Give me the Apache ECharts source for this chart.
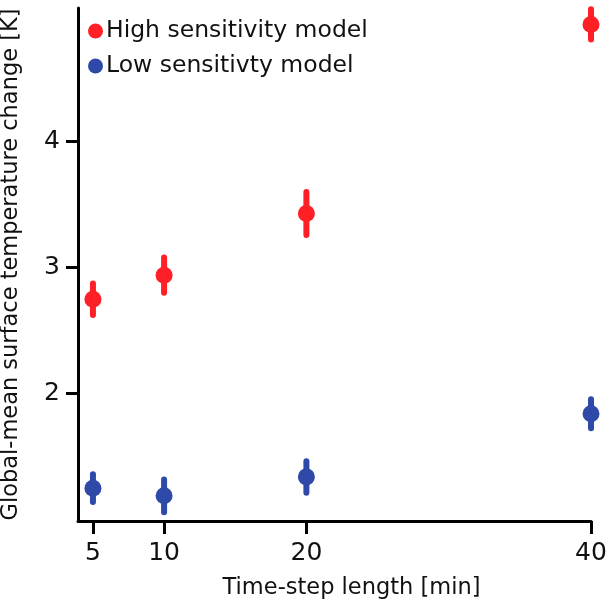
<!DOCTYPE html>
<html><head><meta charset="utf-8">
<script src="https://cdn.jsdelivr.net/npm/echarts@6/dist/echarts.min.js"></script>
<style>html,body{margin:0;padding:0;background:#fff}#c{width:609px;height:603px}</style>
</head><body><div id="c"></div>
<script>
const timeSteps = [5, 10, 20, 40];
const highMean = [2.75, 2.94, 3.43, 4.93];
const highErr = [0.125, 0.14, 0.17, 0.12];
const lowMean = [1.25, 1.19, 1.34, 1.84];
const lowErr = [0.11, 0.13, 0.125, 0.115];
const xTicks = [5, 10, 20, 40];
const yTicks = [2, 3, 4];
const seriesNames = ['High sensitivity model', 'Low sensitivty model'];
const colors = ['#ff1f26', '#2f49a9'];

const font = 'DejaVu Sans';
function errData(means, errs) {
  return timeSteps.map((x, i) => [x, means[i] - errs[i], means[i] + errs[i]]);
}
function errSeries(name, means, errs, color) {
  return {
    type: 'custom', name: name, silent: true,
    itemStyle: { color: color },
    data: errData(means, errs),
    encode: { x: 0, y: [1, 2] },
    renderItem: function (params, api) {
      const a = api.coord([api.value(0), api.value(1)]);
      const b = api.coord([api.value(0), api.value(2)]);
      return { type: 'line', shape: { x1: a[0], y1: a[1], x2: b[0], y2: b[1] },
        style: { stroke: color, lineWidth: 6, lineCap: 'round' } };
    },
    z: 2
  };
}
const chart = echarts.init(document.getElementById('c'), null, { renderer: 'canvas' });
chart.setOption({
  animation: false,
  color: colors,
  textStyle: { fontFamily: font },
  grid: { left: 78, right: 18, top: 8, bottom: 82, containLabel: false, outerBoundsMode: 'none' },
  legend: {
    left: 83, top: 14, orient: 'vertical', itemGap: 11,
    icon: 'circle', itemWidth: 15, itemHeight: 15,
    textStyle: { fontSize: 23.5, color: '#111', fontFamily: font, padding: [0, 0, 0, -2] },
    data: seriesNames.map((n, i) => ({ name: n, itemStyle: { color: colors[i] } }))
  },
  xAxis: {
    type: 'value', min: 3.95, max: 40,
    name: 'Time-step length [min]', nameLocation: 'middle', nameGap: 56,
    nameTextStyle: { fontSize: 22.5, color: '#111', fontFamily: font, padding: [0, 0, 0, 34] },
    axisLine: { lineStyle: { color: '#000', width: 3 } },
    axisTick: { length: 13, lineStyle: { color: '#000', width: 3 }, customValues: xTicks },
    axisLabel: { fontSize: 25, color: '#111', margin: 20, customValues: xTicks },
    splitLine: { show: false }
  },
  yAxis: {
    type: 'value', min: 0.99, max: 5.06,
    name: 'Global-mean surface temperature change [K]', nameLocation: 'middle', nameGap: 55,
    nameTextStyle: { fontSize: 22.5, color: '#111', fontFamily: font },
    axisLine: { show: true, lineStyle: { color: '#000', width: 3 } },
    axisTick: { show: true, length: 12, lineStyle: { color: '#000', width: 3 }, customValues: yTicks },
    axisLabel: { fontSize: 25, color: '#111', margin: 18, customValues: yTicks },
    splitLine: { show: false }
  },
  series: [
    errSeries(seriesNames[0], highMean, highErr, colors[0]),
    errSeries(seriesNames[1], lowMean, lowErr, colors[1]),
    { type: 'scatter', name: seriesNames[0], symbol: 'circle', symbolSize: 17,
      itemStyle: { color: colors[0], opacity: 1 }, data: timeSteps.map((x, i) => [x, highMean[i]]), z: 3 },
    { type: 'scatter', name: seriesNames[1], symbol: 'circle', symbolSize: 17,
      itemStyle: { color: colors[1], opacity: 1 }, data: timeSteps.map((x, i) => [x, lowMean[i]]), z: 3 }
  ]
});
</script></body></html>
